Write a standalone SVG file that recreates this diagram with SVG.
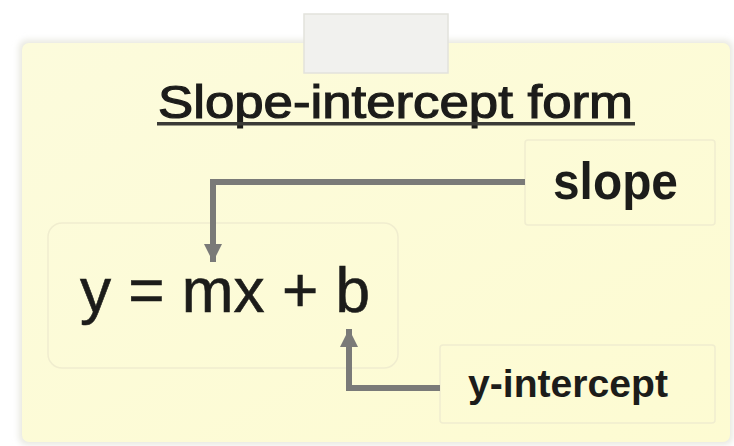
<svg xmlns="http://www.w3.org/2000/svg" width="734" height="446" viewBox="0 0 734 446">
  <defs>
    <style>
      .t { font-family: "Liberation Sans", Arial, sans-serif; fill: #1c1c1a; }
      .b { font-weight: bold; }
      .box { fill: none; stroke: #f0edcf; stroke-width: 1.5; }
      .con { fill: none; stroke: #7a7a78; stroke-width: 6; }
    </style>
    <filter id="sh" x="-5%" y="-5%" width="110%" height="110%">
      <feGaussianBlur stdDeviation="3"/>
    </filter>
    <linearGradient id="card" x1="0" y1="0" x2="1" y2="1">
      <stop offset="0" stop-color="#fcfbdc"/>
      <stop offset="1" stop-color="#fdfbd2"/>
    </linearGradient>
    <marker id="ah" viewBox="0 0 10 10" refX="10" refY="5" markerWidth="3" markerHeight="3" orient="auto" markerUnits="strokeWidth">
      <path d="M0,0 L10,5 L0,10 z" fill="#7a7a78"/>
    </marker>
  </defs>
  <rect width="734" height="446" fill="#ffffff"/>
  <g id="card-bg">
    <rect x="19" y="40" width="714" height="405" rx="8" fill="#e8e8e0" filter="url(#sh)"/>
    <rect x="22" y="43" width="708" height="399" rx="7" fill="url(#card)"/>
  </g>
  <g id="tab">
    <rect x="304" y="14" width="144" height="59" fill="#f1f1ee" stroke="#e2e2dc" stroke-width="1.5"/>
  </g>
  <g id="title">
    <text class="t" x="158" y="118" font-size="46" stroke="#1c1c1a" stroke-width="1.2" textLength="475" lengthAdjust="spacingAndGlyphs">Slope-intercept form</text>
    <rect x="157" y="122" width="478" height="3.5" fill="#3a3a36"/>
  </g>
  <g id="equation">
    <rect class="box" x="48" y="223" width="350" height="145" rx="14"/>
    <text class="t" x="80" y="312" font-size="63" stroke="#1c1c1a" stroke-width="0.6" textLength="290" lengthAdjust="spacingAndGlyphs">y = mx + b</text>
  </g>
  <g id="slope">
    <rect class="box" x="525" y="140" width="190" height="85" rx="3"/>
    <text class="t b" x="553" y="199" font-size="52" textLength="125" lengthAdjust="spacingAndGlyphs">slope</text>
  </g>
  <g id="y-intercept">
    <rect class="box" x="440" y="345" width="275" height="78" rx="3"/>
    <text class="t b" x="468" y="397" font-size="39" textLength="200" lengthAdjust="spacingAndGlyphs">y-intercept</text>
  </g>
  <g id="connectors">
    <path class="con" d="M525,182 H213 V262" marker-end="url(#ah)"/>
    <path class="con" d="M440,388 H349 V329" marker-end="url(#ah)"/>
  </g>
</svg>
